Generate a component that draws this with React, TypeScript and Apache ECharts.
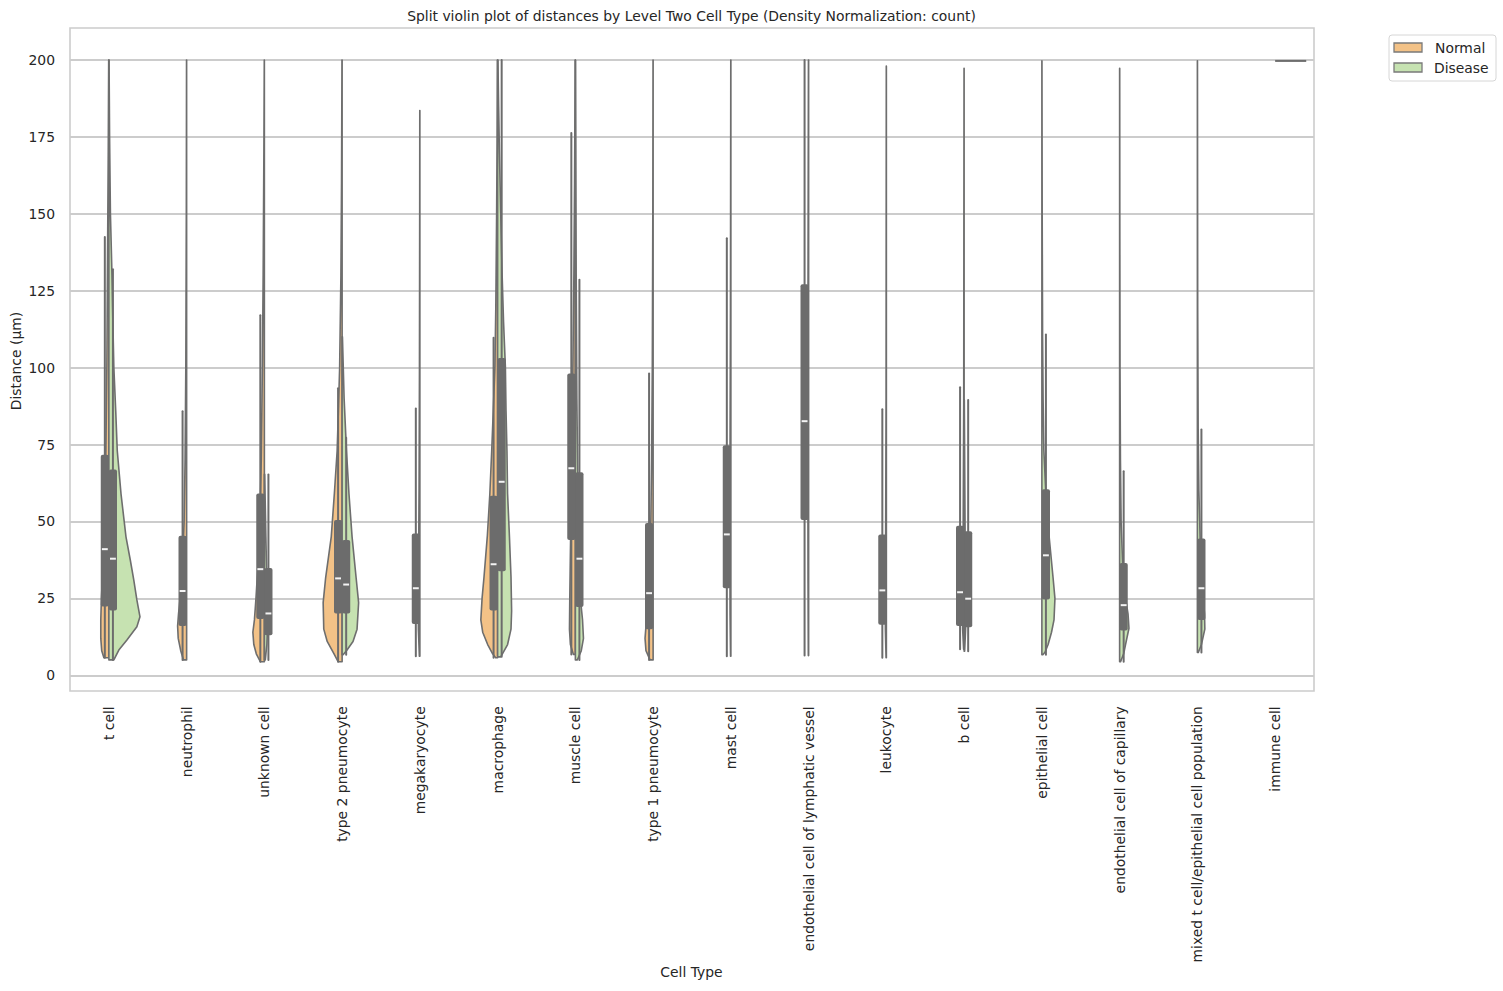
import React, { useEffect, useRef } from "react";
import * as echarts from "echarts";

// ---------- data ----------
const categories = [
  "t cell",
  "neutrophil",
  "unknown cell",
  "type 2 pneumocyte",
  "megakaryocyte",
  "macrophage",
  "muscle cell",
  "type 1 pneumocyte",
  "mast cell",
  "endothelial cell of lymphatic vessel",
  "leukocyte",
  "b cell",
  "epithelial cell",
  "endothelial cell of capillary",
  "mixed t cell/epithelial cell population",
  "immune cell",
];

const hues = ["Normal", "Disease"];

// inner box statistics (µm)
const normalWhiskerLow = [5.7, 5, 4.4, 4.4, 6.2, 5.7, 6.8, 5, 6.2, 6.4, 5.7, 8.5, null, null, null, null];
const normalQ1 = [22.4, 16, 18.3, 20.1, 16.7, 21.1, 44, 15, 28.3, 50.5, 16.4, 16, null, null, null, null];
const normalMedian = [41, 27.4, 34.5, 31.5, 28.3, 36.1, 67.3, 26.7, 45.8, 82.6, 27.6, 27, null, null, null, null];
const normalQ3 = [71.7, 45.4, 59.1, 50.5, 46.1, 58.4, 98.1, 49.5, 74.8, 127.1, 45.8, 48.6, null, null, null, null];
const normalWhiskerHigh = [142.5, 85.8, 117, 93.3, 86.7, 109.7, 176.3, 98.1, 142.1, 200, 86.5, 93.6, null, null, null, null];

const diseaseWhiskerLow = [5, null, 5, 6.7, null, 6, 5, null, null, null, null, 7.8, 6.7, 4.4, 7.4, null];
const diseaseQ1 = [21.1, null, 13, 20.1, null, 33.8, 22.2, null, null, null, null, 15.6, 24.6, 14.6, 18, null];
const diseaseMedian = [37.9, null, 20.1, 29.5, null, 62.9, 37.9, null, null, null, null, 24.9, 39, 22.8, 28.3, null];
const diseaseQ3 = [66.9, null, 34.9, 44, null, 103.1, 66, null, null, null, null, 46.8, 60.5, 36.5, 44.5, null];
const diseaseWhiskerHigh = [132, null, 65.3, 77.2, null, 200, 128.6, null, null, null, null, 89.5, 110.8, 66.3, 79.9, null];

// count-normalized density profiles: [distance, relative density (1 = widest)]
const normalDensity: number[][][] = [
  [[5.7, 0.16], [8, 0.23], [12, 0.26], [18, 0.26], [25, 0.24], [35, 0.19], [50, 0.15], [70, 0.1], [100, 0.065], [140, 0.04], [170, 0.02], [200, 0.006]],
  [[5, 0.1], [8, 0.19], [12, 0.27], [16, 0.29], [20, 0.26], [25, 0.21], [35, 0.14], [50, 0.08], [70, 0.05], [100, 0.026], [150, 0.01], [200, 0.003]],
  [[4.4, 0.13], [7, 0.26], [10, 0.34], [14, 0.37], [18, 0.32], [25, 0.27], [35, 0.21], [50, 0.145], [70, 0.1], [100, 0.064], [130, 0.039], [170, 0.016], [200, 0.003]],
  [[4.4, 0.13], [7, 0.26], [11, 0.48], [15, 0.59], [23.6, 0.61], [31.7, 0.53], [45, 0.35], [59, 0.25], [73, 0.16], [86, 0.12], [100, 0.08], [130, 0.039], [160, 0.019], [200, 0.005]],
  [[6.2, 0.016], [15, 0.048], [25, 0.048], [40, 0.039], [60, 0.026], [100, 0.013], [150, 0.006], [183.6, 0.003]],
  [[5.7, 0.064], [7, 0.16], [10, 0.32], [14, 0.48], [18, 0.54], [25, 0.5], [31.7, 0.44], [45.4, 0.33], [59, 0.25], [73, 0.19], [86, 0.14], [100, 0.087], [120, 0.058], [150, 0.032], [175, 0.016], [200, 0.006]],
  [[6.8, 0.064], [10, 0.16], [15, 0.19], [25, 0.18], [40, 0.16], [60, 0.13], [80, 0.1], [100, 0.08], [130, 0.048], [160, 0.026], [200, 0.006]],
  [[5, 0.1], [8, 0.23], [12, 0.26], [16, 0.23], [22, 0.16], [30, 0.11], [45, 0.08], [70, 0.048], [100, 0.026], [150, 0.01], [200, 0.003]],
  [[6.2, 0.01], [20, 0.026], [45, 0.032], [75, 0.026], [120, 0.013], [200, 0.003]],
  [[6.4, 0.01], [30, 0.019], [80, 0.026], [130, 0.019], [200, 0.006]],
  [[5.7, 0.01], [15, 0.032], [25, 0.032], [45, 0.023], [90, 0.01], [198, 0.003]],
  [[8.5, 0.016], [15, 0.048], [25, 0.048], [45, 0.032], [90, 0.013], [197.3, 0.003]],
  [],
  [],
  [],
  [],
];

const diseaseDensity: number[][][] = [
  [[5, 0.16], [8.2, 0.32], [11.5, 0.58], [15.8, 0.9], [19, 1], [24.5, 0.9], [31, 0.8], [37.4, 0.69], [45, 0.55], [59, 0.39], [73, 0.27], [86, 0.22], [100, 0.16], [114, 0.13], [130, 0.1], [150, 0.05], [175, 0.023], [200, 0.006]],
  [],
  [[5, 0.03], [10, 0.08], [15, 0.1], [20, 0.1], [30, 0.08], [45, 0.048], [65.3, 0.01]],
  [[6.7, 0.03], [8, 0.14], [11, 0.35], [15, 0.48], [23.6, 0.53], [31.7, 0.45], [45, 0.32], [59, 0.22], [73, 0.14], [90, 0.064], [110, 0.01]],
  [],
  [[6, 0.1], [10, 0.32], [15, 0.43], [21, 0.45], [32, 0.43], [45, 0.38], [59, 0.32], [73, 0.3], [86, 0.27], [100, 0.25], [115, 0.19], [130, 0.145], [150, 0.1], [170, 0.058], [185, 0.032], [200, 0.01]],
  [[5, 0.064], [8, 0.19], [12, 0.26], [18, 0.23], [25, 0.16], [40, 0.11], [60, 0.08], [90, 0.048], [130, 0.026], [170, 0.013], [200, 0.003]],
  [],
  [],
  [],
  [],
  [[7.8, 0.016], [15, 0.048], [25, 0.048], [45, 0.032], [89.5, 0.006]],
  [[6.7, 0.03], [7.5, 0.1], [10, 0.2], [14, 0.31], [18, 0.39], [25, 0.42], [31.7, 0.36], [45.4, 0.23], [59, 0.13], [73, 0.064], [90, 0.039], [110, 0.023], [150, 0.01], [199.7, 0.003]],
  [[4.4, 0.03], [7, 0.13], [10, 0.19], [15.3, 0.3], [20, 0.27], [25, 0.19], [35, 0.1], [50, 0.048], [70, 0.026], [100, 0.013], [150, 0.006], [197.3, 0.003]],
  [[7.4, 0.03], [10, 0.13], [15, 0.24], [20, 0.23], [28, 0.16], [40, 0.1], [60, 0.048], [80, 0.026], [120, 0.01], [199.7, 0.003]],
  [[199.7, 1]],
];

const yMin = 0;
const yMax = 200;
const yInterval = 25;

// ---------- styles ----------
const FONT = "DejaVu Sans";
const FS = 13.9;
const TEXT = "#262626";
const GRID = "#cccccc";
const NORMAL_FILL = "#f3c287";
const DISEASE_FILL = "#c6e2b1";
const OUTLINE = "#6e6e6e";
const INNER = "#6c6c6c";
const HALF_WIDTH = 0.4; // fraction of category band
const BOX_OFFSET = 0.052;
const BOX_WIDTH = 0.105;

function violinRenderer(profiles: number[][][], side: number, fill: string) {
  return (params: any, api: any) => {
    const i = api.value(0);
    const prof = profiles[i];
    if (!prof || prof.length === 0) return null;
    const cx = api.coord([i, 0])[0];
    const band = api.size([1, 0])[0];
    const half = band * HALF_WIDTH;
    if (prof.length === 1) {
      const y = api.coord([i, prof[0][0]])[1];
      return {
        type: "line",
        shape: { x1: cx, y1: y, x2: cx + side * prof[0][1] * half, y2: y },
        style: { stroke: OUTLINE, lineWidth: 2 },
      };
    }
    const pts: number[][] = [];
    pts.push([cx, api.coord([i, prof[0][0]])[1]]);
    for (const [v, d] of prof) pts.push([cx + side * d * half, api.coord([i, v])[1]]);
    pts.push([cx, api.coord([i, prof[prof.length - 1][0]])[1]]);
    return {
      type: "polygon",
      shape: { points: pts },
      style: { fill, stroke: OUTLINE, lineWidth: 1.6, lineJoin: "round" },
    };
  };
}

function boxRenderer(params: any, api: any) {
  const i = api.value(0);
  const cx = api.coord([i, 0])[0];
  const band = api.size([1, 0])[0];
  const children: any[] = [];
  const sets = [
    { side: -1, wl: normalWhiskerLow, q1: normalQ1, md: normalMedian, q3: normalQ3, wh: normalWhiskerHigh },
    { side: 1, wl: diseaseWhiskerLow, q1: diseaseQ1, md: diseaseMedian, q3: diseaseQ3, wh: diseaseWhiskerHigh },
  ];
  for (const s of sets) {
    if (s.q1[i] == null) continue;
    const x = cx + s.side * band * BOX_OFFSET;
    const bw = band * BOX_WIDTH;
    const yl = api.coord([i, s.wl[i]])[1];
    const yh = api.coord([i, s.wh[i]])[1];
    const y1 = api.coord([i, s.q1[i]])[1];
    const y3 = api.coord([i, s.q3[i]])[1];
    const ym = api.coord([i, s.md[i]])[1];
    children.push({
      type: "line",
      shape: { x1: x, y1: yl, x2: x, y2: yh },
      style: { stroke: INNER, lineWidth: 2, lineCap: "round" },
    });
    children.push({
      type: "rect",
      shape: { x: x - bw / 2, y: y3, width: bw, height: y1 - y3, r: 2 },
      style: { fill: INNER },
    });
    children.push({
      type: "rect",
      shape: { x: x - bw * 0.36, y: ym - 1, width: bw * 0.72, height: 2 },
      style: { fill: "#f4f4f4" },
    });
  }
  return { type: "group", children };
}

export default function App() {
  const ref = useRef<HTMLDivElement>(null);
  useEffect(() => {
    if (!ref.current) return;
    const chart = echarts.init(ref.current, null, { renderer: "svg" });
    const catData = categories.map((_, i) => [i, 0]);
    chart.setOption({
      animation: false,
      backgroundColor: "#ffffff",
      textStyle: { fontFamily: FONT },
      grid: { left: 70, right: 189, top: 60, bottom: 315.7, containLabel: false },
      xAxis: {
        type: "category",
        data: categories,
        axisLine: { show: false },
        axisTick: { show: false },
        splitLine: { show: false },
        axisLabel: { rotate: 90, interval: 0, margin: 31, fontSize: FS, color: TEXT, fontFamily: FONT },
      },
      yAxis: {
        type: "value",
        min: yMin,
        max: yMax,
        interval: yInterval,
        axisLine: { show: false },
        axisTick: { show: false },
        splitLine: { lineStyle: { color: GRID, width: 2 } },
        axisLabel: { margin: 15, fontSize: FS, color: TEXT, fontFamily: FONT },
      },
      series: [
        {
          name: hues[0],
          type: "custom",
          renderItem: violinRenderer(normalDensity, -1, NORMAL_FILL),
          data: catData,
          encode: { x: 0, y: 1 },
          clip: false,
          z: 2,
        },
        {
          name: hues[1],
          type: "custom",
          renderItem: violinRenderer(diseaseDensity, 1, DISEASE_FILL),
          data: catData,
          encode: { x: 0, y: 1 },
          clip: false,
          z: 3,
        },
        {
          name: "inner box",
          type: "custom",
          renderItem: boxRenderer,
          data: catData,
          encode: { x: 0, y: 1 },
          clip: false,
          z: 4,
        },
      ],
      graphic: [
        {
          type: "rect",
          z: 1,
          silent: true,
          shape: { x: 70, y: 28, width: 1244, height: 663 },
          style: { fill: "none", stroke: GRID, lineWidth: 1.6 },
        },
        {
          type: "text",
          x: 691.5,
          y: 16,
          style: {
            text: "Split violin plot of distances by Level Two Cell Type (Density Normalization: count)",
            align: "center",
            verticalAlign: "middle",
            fontSize: FS,
            fontFamily: FONT,
            fill: TEXT,
          },
        },
        {
          type: "text",
          x: 16,
          y: 361,
          rotation: Math.PI / 2,
          style: {
            text: "Distance (µm)",
            align: "center",
            verticalAlign: "middle",
            fontSize: FS,
            fontFamily: FONT,
            fill: TEXT,
          },
        },
        {
          type: "text",
          x: 691.5,
          y: 972,
          style: {
            text: "Cell Type",
            align: "center",
            verticalAlign: "middle",
            fontSize: FS,
            fontFamily: FONT,
            fill: TEXT,
          },
        },
        {
          type: "rect",
          z: 10,
          shape: { x: 1389, y: 35, width: 107, height: 46, r: 3 },
          style: { fill: "#ffffff", stroke: "#d6d6d6", lineWidth: 1 },
        },
        {
          type: "rect",
          z: 11,
          shape: { x: 1394, y: 43, width: 28, height: 9 },
          style: { fill: NORMAL_FILL, stroke: "#7a7a7a", lineWidth: 1.3 },
        },
        {
          type: "rect",
          z: 11,
          shape: { x: 1394, y: 63, width: 28, height: 9 },
          style: { fill: DISEASE_FILL, stroke: "#7a7a7a", lineWidth: 1.3 },
        },
        {
          type: "text",
          z: 11,
          x: 1435,
          y: 47.5,
          style: { text: hues[0], verticalAlign: "middle", fontSize: FS, fontFamily: FONT, fill: TEXT },
        },
        {
          type: "text",
          z: 11,
          x: 1434,
          y: 68,
          style: { text: hues[1], verticalAlign: "middle", fontSize: FS, fontFamily: FONT, fill: TEXT },
        },
      ],
    });
    return () => chart.dispose();
  }, []);
  return (
    <div
      ref={ref}
      style={{ position: "absolute", left: 0, top: 0, width: 1503, height: 991, background: "#fff" }}
    />
  );
}
